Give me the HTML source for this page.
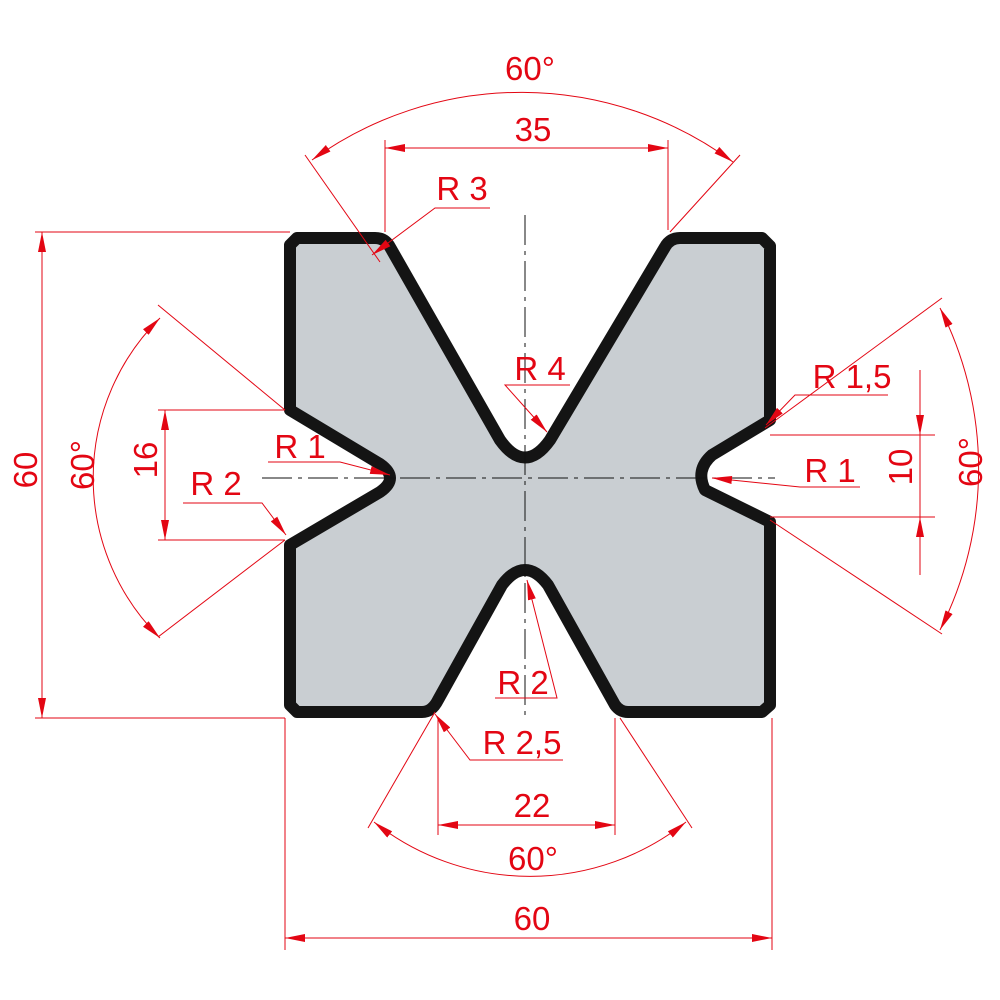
<!DOCTYPE html>
<html><head><style>html,body{margin:0;padding:0;background:#fff}svg{display:block}
text{font-family:"Liberation Sans",sans-serif;font-size:33px;fill:#e30613}</style></head>
<body>
<svg width="1000" height="1000" viewBox="0 0 1000 1000" xmlns="http://www.w3.org/2000/svg">
<defs>
<marker id="a" viewBox="0 0 20 8" refX="20" refY="4" markerWidth="20" markerHeight="8" orient="auto-start-reverse" markerUnits="userSpaceOnUse"><path d="M0,0 L20,4 L0,8 Z" fill="#e30613"/></marker>
</defs>
<path d="M297,238 L375,238 Q385,238 390,247 L500,440 Q525,475 550,440 L665,247 Q670,238 680,238 L762,238 L770,246 L770,420 L712,455 Q695,470 705,490 L770,522 L770,705 L762,712 L628,712 Q620,712 615,705 L548,585 Q525,555 502,585 L438,700 Q432,712 422,712 L297,712 L290,705 L290,545 L380,492 Q400,478 380,464 L290,410 L290,245 Z" fill="#c9ced2" stroke="#141414" stroke-width="12" stroke-linejoin="round"/>
<g stroke="#111" stroke-width="1" stroke-dasharray="30,6,4,6" fill="none">
<line x1="525" y1="215" x2="525" y2="715"/>
<line x1="262" y1="478" x2="775" y2="478"/>
</g>
<g stroke="#e30613" stroke-width="1" fill="none">
<!-- top 35 -->
<line x1="385" y1="148" x2="668" y2="148" marker-start="url(#a)" marker-end="url(#a)"/>
<line x1="385" y1="140" x2="385" y2="232"/><line x1="668" y1="140" x2="668" y2="230"/>
<!-- top 60deg -->
<path d="M312,160 A357,357 0 0 1 733,162" marker-start="url(#a)" marker-end="url(#a)"/>
<line x1="305" y1="155" x2="380" y2="262"/><line x1="740" y1="155" x2="670" y2="232"/>
<!-- R3 -->
<polyline points="490,208 435,208 372,255" marker-end="url(#a)"/>
<!-- R4 -->
<polyline points="570,385 505,385 547,432" marker-end="url(#a)"/>
<!-- left 60 -->
<line x1="42" y1="232" x2="42" y2="718" marker-start="url(#a)" marker-end="url(#a)"/>
<line x1="35" y1="232" x2="290" y2="232"/><line x1="35" y1="718" x2="285" y2="718"/>
<!-- left 16 -->
<line x1="165" y1="410" x2="165" y2="540" marker-start="url(#a)" marker-end="url(#a)"/>
<line x1="158" y1="410" x2="285" y2="410"/><line x1="158" y1="540" x2="285" y2="540"/>
<!-- left 60deg -->
<path d="M160,318 A225,225 0 0 0 160,638" marker-start="url(#a)" marker-end="url(#a)"/>
<line x1="158" y1="305" x2="285" y2="410"/><line x1="158" y1="637" x2="285" y2="540"/>
<!-- R1 left -->
<polyline points="268,462 340,462 390,475" marker-end="url(#a)"/>
<!-- R2 left -->
<polyline points="183,503 262,503 286,535" marker-end="url(#a)"/>
<!-- right R1,5 -->
<polyline points="888,395 795,395 766,425" marker-end="url(#a)"/>
<!-- right 10 -->
<line x1="920" y1="370" x2="920" y2="435" marker-end="url(#a)"/>
<line x1="920" y1="575" x2="920" y2="517" marker-end="url(#a)"/>
<line x1="920" y1="435" x2="920" y2="517"/>
<line x1="770" y1="435" x2="935" y2="435"/><line x1="770" y1="517" x2="935" y2="517"/>
<!-- right 60deg -->
<path d="M940,308 A355,355 0 0 1 940,630" marker-start="url(#a)" marker-end="url(#a)"/>
<line x1="942" y1="298" x2="765" y2="428"/><line x1="942" y1="634" x2="770" y2="520"/>
<!-- R1 right -->
<polyline points="860,487 800,487 712,478" marker-end="url(#a)"/>
<!-- R2 bottom -->
<polyline points="495,698 557,698 527,580" marker-end="url(#a)"/>
<!-- R2,5 -->
<polyline points="563,760 470,760 435,714" marker-end="url(#a)"/>
<!-- 22 -->
<line x1="438" y1="825" x2="615" y2="825" marker-start="url(#a)" marker-end="url(#a)"/>
<line x1="438" y1="718" x2="438" y2="835"/><line x1="615" y1="718" x2="615" y2="835"/>
<!-- bottom 60deg -->
<path d="M374,822 A251,251 0 0 0 686,822" marker-start="url(#a)" marker-end="url(#a)"/>
<line x1="368" y1="828" x2="435" y2="712"/><line x1="692" y1="828" x2="620" y2="718"/>
<!-- bottom 60 -->
<line x1="285" y1="938" x2="772" y2="938" marker-start="url(#a)" marker-end="url(#a)"/>
<line x1="285" y1="718" x2="285" y2="950"/><line x1="772" y1="718" x2="772" y2="950"/>
</g>
<g text-anchor="middle">
<text x="530" y="80">60°</text>
<text x="533" y="141">35</text>
<text x="462" y="200">R 3</text>
<text x="540" y="380">R 4</text>
<text x="852" y="388">R 1,5</text>
<text x="300" y="458">R 1</text>
<text x="216" y="495">R 2</text>
<text x="830" y="482">R 1</text>
<text x="523" y="694">R 2</text>
<text x="522" y="754">R 2,5</text>
<text x="532" y="817">22</text>
<text x="533" y="870">60°</text>
<text x="532" y="930">60</text>
<text transform="translate(37,470) rotate(-90)">60</text>
<text transform="translate(94,465) rotate(-90)">60°</text>
<text transform="translate(157,460) rotate(-90)">16</text>
<text transform="translate(912,467) rotate(-90)">10</text>
<text transform="translate(982,462) rotate(-90)">60°</text>
</g>
</svg>
</body></html>
